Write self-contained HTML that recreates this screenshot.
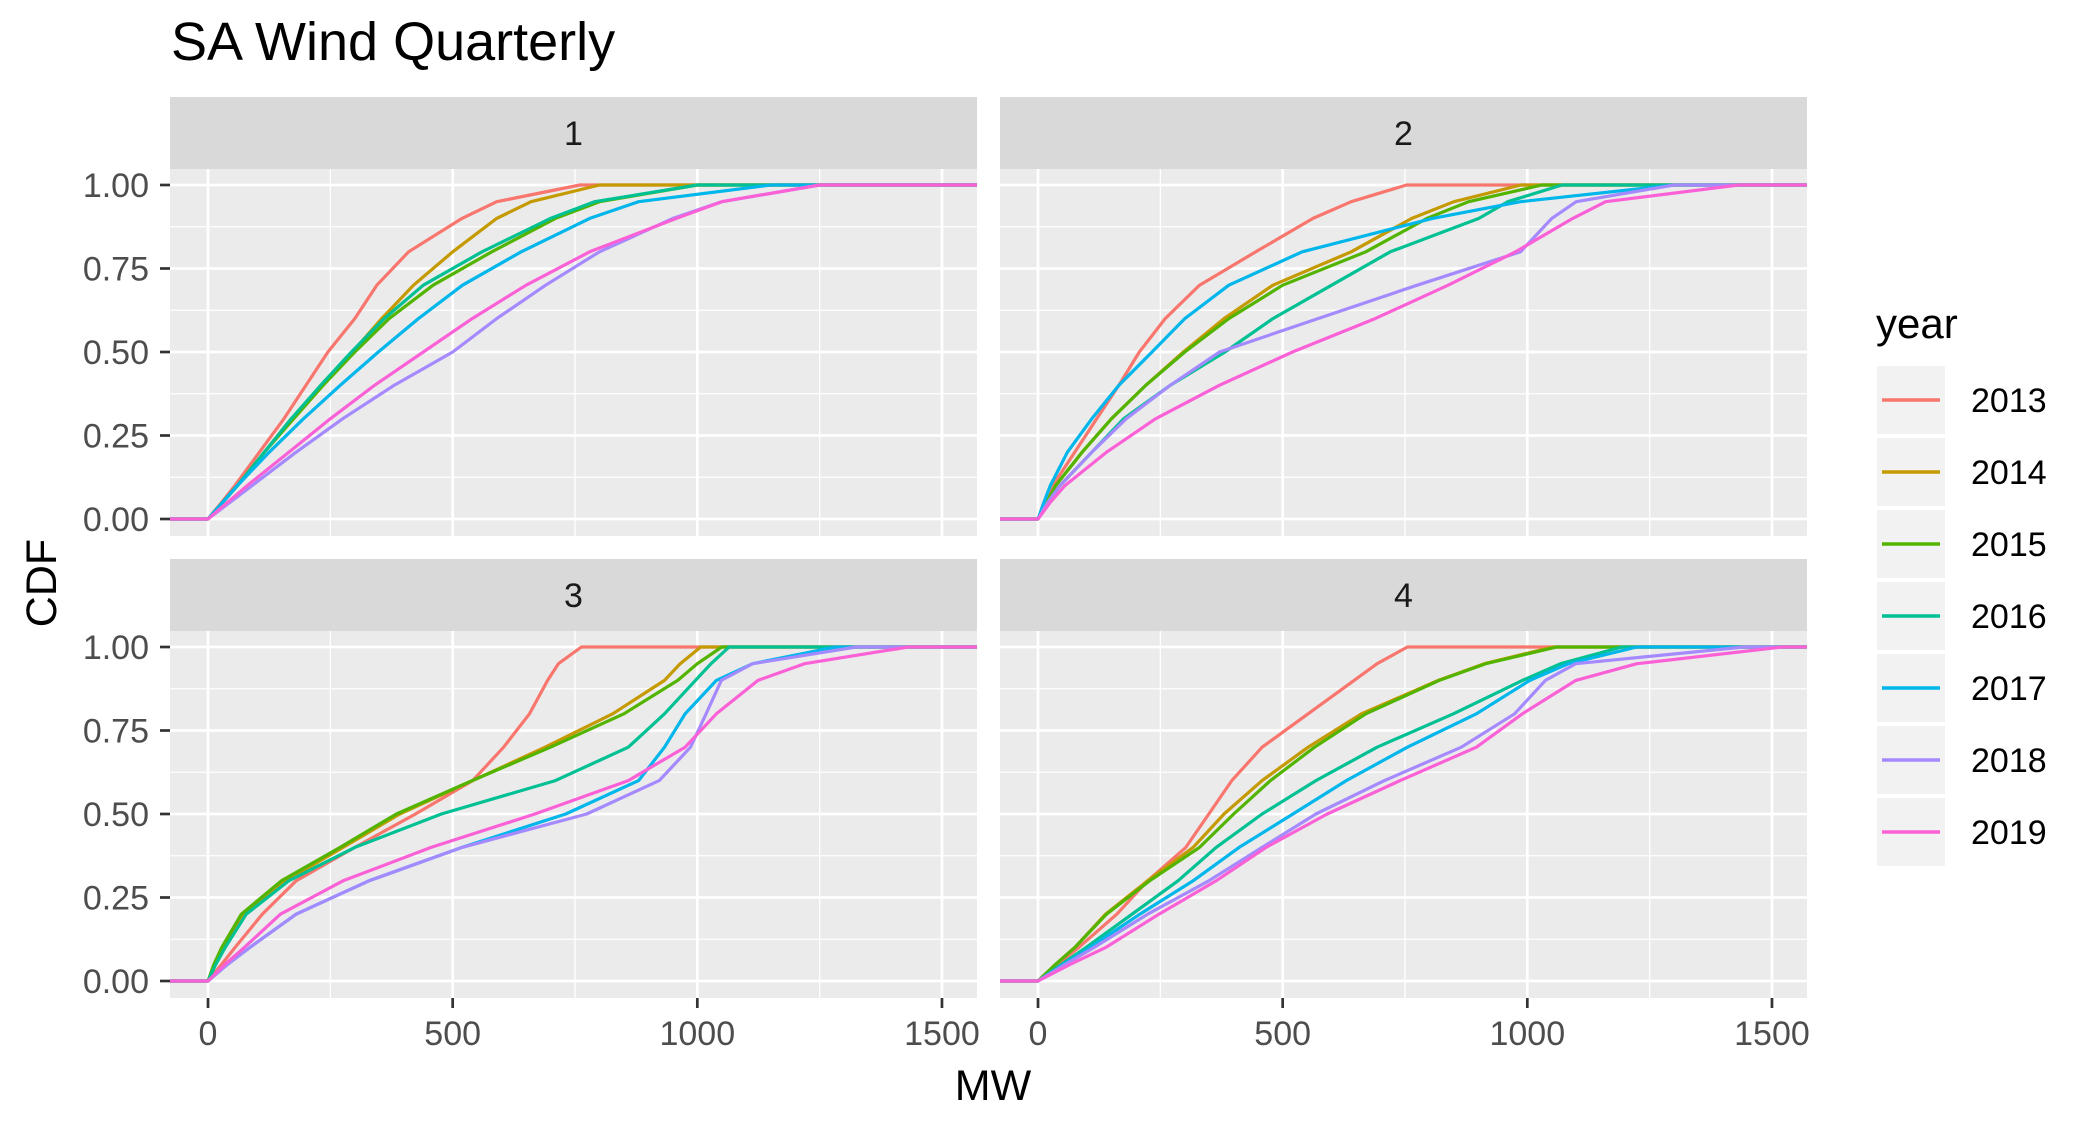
<!DOCTYPE html>
<html><head><meta charset="utf-8"><style>
html,body{margin:0;padding:0;background:#fff;}
svg{display:block;font-family:"Liberation Sans",Arial,sans-serif;}
</style></head><body>
<svg id="chart" width="2100" height="1131" viewBox="0 0 2100 1131" xmlns="http://www.w3.org/2000/svg">
<rect x="0" y="0" width="2100" height="1131" fill="#fff"/>
<text x="171" y="60" font-size="54" fill="#000">SA Wind Quarterly</text>
<text x="993" y="1100" font-size="43" fill="#000" text-anchor="middle">MW</text>
<text transform="translate(56,583) rotate(-90)" font-size="43" fill="#000" text-anchor="middle">CDF</text>
<text x="1876" y="338" font-size="42" fill="#000">year</text>
<g id="panels"></g>
<g id="legend"></g>
</svg>
<script>
const years = ["2013","2014","2015","2016","2017","2018","2019"];
const colors = ["#F8766D","#C49A00","#53B400","#00C094","#00B6EB","#A58AFF","#FB61D7"];
const quarters = ["1","2","3","4"];
const probs = [0,0.05,0.1,0.2,0.3,0.4,0.5,0.6,0.7,0.8,0.9,0.95,1];
const yTicks = [0,0.25,0.5,0.75,1];
const yTickLabels = ["0.00","0.25","0.50","0.75","1.00"];
const xTicks = [0,500,1000,1500];
const xTickLabels = ["0","500","1000","1500"];
// MW quantiles at probs, per quarter per year
const q1_2013 = [0,28,55,105,155,200,245,300,345,410,519,590,760];
const q1_2014 = [0,30,60,115,170,235,295,355,420,500,590,660,800];
const q1_2015 = [0,30,60,115,175,235,300,370,460,580,710,800,1000];
const q1_2016 = [0,30,60,115,170,230,293,360,440,560,700,790,1000];
const q1_2017 = [0,30,60,125,195,270,348,430,520,640,780,880,1150];
const q1_2018 = [0,45,90,180,275,380,500,590,690,800,950,1050,1250];
const q1_2019 = [0,40,80,165,250,340,440,540,650,780,957,1050,1250];
const q2_2013 = [0,15,30,75,120,165,207,260,330,445,562,640,753];
const q2_2014 = [0,18,36,90,150,220,297,380,480,640,764,850,987];
const q2_2015 = [0,18,36,90,150,220,300,390,500,670,795,880,1030];
const q2_2016 = [0,20,45,110,175,270,382,480,600,720,901,960,1071];
const q2_2017 = [0,12,25,60,110,165,233,300,390,540,806,986,1300];
const q2_2018 = [0,20,45,110,180,270,371,572,775,986,1050,1100,1300];
const q2_2019 = [0,25,55,140,240,370,520,689,838,976,1093,1160,1432];
const q3_2013 = [0,28,55,111,180,300,424,541,604,657,694,716,763];
const q3_2014 = [0,15,32,74,159,276,392,541,689,827,933,965,1007];
const q3_2015 = [0,12,28,68,150,270,385,540,700,850,960,1000,1050];
const q3_2016 = [0,16,35,78,165,300,477,710,859,933,996,1028,1065];
const q3_2017 = [0,40,85,180,329,519,731,880,933,975,1039,1113,1283];
const q3_2018 = [0,40,85,180,329,519,774,922,986,1018,1049,1113,1325];
const q3_2019 = [0,35,74,148,276,456,668,859,975,1039,1124,1219,1431];
const q4_2013 = [0,40,83,161,224,302,349,396,458,552,646,693,755];
const q4_2014 = [0,36,75,138,224,317,380,458,552,661,818,912,1052];
const q4_2015 = [0,36,75,140,228,330,400,475,565,670,820,915,1060];
const q4_2016 = [0,48,98,192,286,364,458,568,693,849,990,1068,1193];
const q4_2017 = [0,52,106,208,317,411,521,630,755,896,1005,1084,1224];
const q4_2018 = [0,56,114,224,349,458,568,708,865,974,1037,1099,1443];
const q4_2019 = [0,66,138,247,364,466,591,740,896,990,1099,1224,1521];
const series = [
 [q1_2013,q1_2014,q1_2015,q1_2016,q1_2017,q1_2018,q1_2019],
 [q2_2013,q2_2014,q2_2015,q2_2016,q2_2017,q2_2018,q2_2019],
 [q3_2013,q3_2014,q3_2015,q3_2016,q3_2017,q3_2018,q3_2019],
 [q4_2013,q4_2014,q4_2015,q4_2016,q4_2017,q4_2018,q4_2019]];

const NS="http://www.w3.org/2000/svg";
function mk(tag,attrs,parent){const e=document.createElementNS(NS,tag);for(const k in attrs)e.setAttribute(k,attrs[k]);parent.appendChild(e);return e;}
const panelsG=document.getElementById('panels');
const PW=807, lefts=[170,1000,170,1000], tops=[97,97,559,559];
const STRIP=72, PH=367;
const xmin=-77.7, xmax=xmin+PW/0.4893;
quarters.forEach((q,i)=>{
  const L=lefts[i], T=tops[i], PT=T+STRIP, PB=PT+PH;
  const sx=v=>L+(v-xmin)*0.4893;
  const sy=p=>PT+16+(1-p)*334;
  const g=mk('g',{},panelsG);
  
  
  const strip=mk('rect',{x:L,y:T,width:PW,height:STRIP,fill:'#D9D9D9'},g);
  
  
  const st=mk('text',{x:L+PW/2,y:T+STRIP/2+12,'font-size':34,'text-anchor':'middle',fill:'#1A1A1A'},g);
  st.textContent=q;
  
  
  const bg=mk('rect',{x:L,y:PT,width:PW,height:PH,fill:'#EBEBEB'},g);
  
  
  [0.125,0.375,0.625,0.875].forEach(p=>{const l=mk('line',{x1:L,x2:L+PW,y1:sy(p),y2:sy(p),stroke:'#fff','stroke-width':1.3},g);});
  [250,750,1250].forEach(v=>{const l=mk('line',{x1:sx(v),x2:sx(v),y1:PT,y2:PB,stroke:'#fff','stroke-width':1.3},g);});
  yTicks.forEach((p,k)=>{
    const l=mk('line',{x1:L,x2:L+PW,y1:sy(p),y2:sy(p),stroke:'#fff','stroke-width':2.7},g);
    
    
    if(L<500){
      const tk=mk('line',{x1:L-10,x2:L,y1:sy(p),y2:sy(p),stroke:'#333','stroke-width':2.7},g);
      
      
      const t=mk('text',{x:L-21,y:sy(p)+12,'font-size':34,'text-anchor':'end',fill:'#4D4D4D'},g);
      t.textContent=yTickLabels[k];
      
      
    }
  });
  xTicks.forEach((v,k)=>{
    const l=mk('line',{x1:sx(v),x2:sx(v),y1:PT,y2:PB,stroke:'#fff','stroke-width':2.7},g);
    
    
    if(T>300){
      const tk=mk('line',{x1:sx(v),x2:sx(v),y1:PB,y2:PB+10,stroke:'#333','stroke-width':2.7},g);
      
      
      const t=mk('text',{x:sx(v),y:PB+47,'font-size':34,'text-anchor':'middle',fill:'#4D4D4D'},g);
      t.textContent=xTickLabels[k];
      
      
    }
  });
  series[i].forEach((arr,j)=>{
    let pts=[[sx(xmin),sy(0)]];
    arr.forEach((v,k)=>pts.push([sx(v),sy(probs[k])]));
    pts.push([sx(xmax),sy(1)]);
    const d='M'+pts.map(p=>p[0].toFixed(1)+','+p[1].toFixed(1)).join('L');
    const path=mk('path',{d:d,fill:'none',stroke:colors[j],'stroke-width':3.2,'stroke-linejoin':'round'},g);
    
    
  });
});
const lg=document.getElementById('legend');
years.forEach((y,j)=>{
  const cy=400+72*j;
  const g=mk('g',{},lg);
  
  
  mk('rect',{x:1877,y:cy-34,width:68,height:68,fill:'#F2F2F2'},g);
  mk('line',{x1:1882,x2:1940,y1:cy,y2:cy,stroke:colors[j],'stroke-width':3.5},g);
  const t=mk('text',{x:1971,y:cy+12,'font-size':34,fill:'#000'},g);
  t.textContent=y;
});
</script>
</body></html>
